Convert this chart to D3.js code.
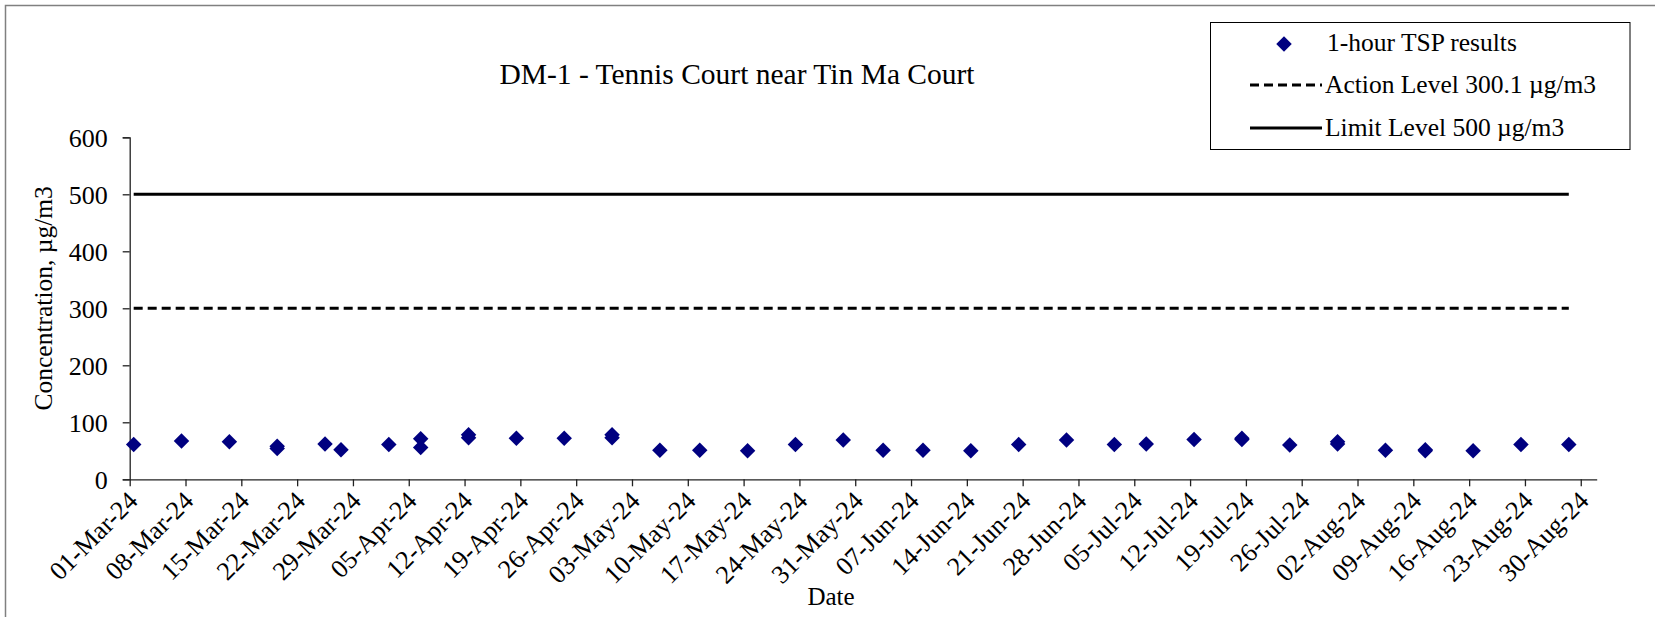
<!DOCTYPE html>
<html>
<head>
<meta charset="utf-8">
<script src="https://cdn.jsdelivr.net/npm/d3@7"></script>
<style>
  html, body { margin: 0; padding: 0; background: #fff; }
  svg { display: block; }
  text { font-family: "Liberation Serif", "Times New Roman", serif; fill: #000; }
</style>
</head>
<body>
<svg id="chart" width="1655" height="617"></svg>
<script>
// ---- Data ----
const sampleDates = [
  "2024-03-01","2024-03-07","2024-03-13","2024-03-19","2024-03-19","2024-03-25","2024-03-27",
  "2024-04-02","2024-04-06","2024-04-06","2024-04-12","2024-04-12","2024-04-18","2024-04-24",
  "2024-04-30","2024-04-30","2024-05-06","2024-05-11","2024-05-17","2024-05-23","2024-05-29",
  "2024-06-03","2024-06-08","2024-06-14","2024-06-20","2024-06-26","2024-07-02","2024-07-06",
  "2024-07-12","2024-07-18","2024-07-18","2024-07-24","2024-07-30","2024-07-30","2024-08-05",
  "2024-08-10","2024-08-10","2024-08-16","2024-08-22","2024-08-28"
];
const tspValues = [
  61, 67, 66, 58, 54, 62, 52,
  61, 71, 56, 78, 73, 72, 72,
  78, 73, 51, 51, 50, 61, 69,
  51, 51, 50, 61, 69, 61, 62,
  70, 72, 70, 60, 66, 62, 51,
  52, 50, 50, 61, 61
];
const actionLevel = 300.1;
const limitLevel = 500;
const levelStart = "2024-03-01";
const levelEnd = "2024-08-28";
const axisStart = "2024-03-01";
const axisEnd = "2024-09-01";
const lastTick = "2024-08-30";
const yTicks = [0, 100, 200, 300, 400, 500, 600];
const chartTitle = "DM-1 - Tennis Court near Tin Ma Court";
const yTitle = "Concentration, \u00b5g/m3";
const xTitle = "Date";
const legendLabels = ["1-hour TSP results", "Action Level 300.1 \u00b5g/m3", "Limit Level 500 \u00b5g/m3"];

// ---- Layout ----
const parse = d3.utcParse("%Y-%m-%d");
const mid = s => d3.utcHour.offset(parse(s), 12);
const svg = d3.select("#chart");
const plot = { left: 129.7, right: 1596.7, top: 137.3, bottom: 479.3 };

const x = d3.scaleUtc().domain([parse(axisStart), parse(axisEnd)]).range([plot.left, plot.right]);
const y = d3.scaleLinear().domain([0, 600]).range([plot.bottom, plot.top]);

// outer chart border
svg.append("rect").attr("x", 5.5).attr("y", 5.5).attr("width", 1700).attr("height", 700)
  .attr("fill", "none").attr("stroke", "#808080").attr("stroke-width", 1.5);

// title
svg.append("text").attr("x", 737).attr("y", 84).attr("text-anchor", "middle")
  .attr("font-size", 29.5).text(chartTitle);

// y axis
const yAxis = svg.append("g").attr("transform", `translate(${plot.left},0)`)
  .call(d3.axisLeft(y).tickValues(yTicks).tickSize(7).tickPadding(15).tickFormat(d3.format("d")));
yAxis.selectAll("text").attr("font-size", 26).attr("font-family", "Liberation Serif, serif").attr("dy", "0.35em");
yAxis.selectAll("line, path").attr("stroke", "#222").attr("stroke-width", 1.3);

// x axis
const weekTicks = d3.utcDay.range(parse(axisStart), d3.utcDay.offset(parse(lastTick), 1), 7);
const xAxis = svg.append("g").attr("transform", `translate(0,${plot.bottom})`)
  .call(d3.axisBottom(x).tickValues(weekTicks).tickSize(7).tickSizeOuter(0).tickFormat(d3.utcFormat("%d-%b-%y")));
xAxis.selectAll("line, path").attr("stroke", "#222").attr("stroke-width", 1.3);
xAxis.selectAll("text")
  .attr("font-size", 26).attr("font-family", "Liberation Serif, serif")
  .attr("text-anchor", "end")
  .attr("dy", 0).attr("y", 0)
  .attr("transform", "translate(9,23) rotate(-45)");

// axis titles
svg.append("text").attr("transform", `translate(52,${(plot.top + plot.bottom) / 2 - 10}) rotate(-90)`)
  .attr("text-anchor", "middle").attr("font-size", 25.5).text(yTitle);
svg.append("text").attr("x", 831).attr("y", 605).attr("text-anchor", "middle")
  .attr("font-size", 25).text(xTitle);

// level lines
svg.append("line")
  .attr("x1", x(mid(levelStart))).attr("x2", x(mid(levelEnd)))
  .attr("y1", y(limitLevel)).attr("y2", y(limitLevel))
  .attr("stroke", "#000").attr("stroke-width", 3);
svg.append("line")
  .attr("x1", x(mid(levelStart))).attr("x2", x(mid(levelEnd)))
  .attr("y1", y(actionLevel)).attr("y2", y(actionLevel))
  .attr("stroke", "#000").attr("stroke-width", 3).attr("stroke-dasharray", "9,5");

// points (Excel date axis centres points in the day)
const points = sampleDates.map((d, i) => ({ date: mid(d), value: tspValues[i] }));
const diamond = d3.symbol().type(d3.symbolSquare).size(120);
svg.append("g").selectAll("path").data(points).join("path")
  .attr("d", diamond)
  .attr("transform", d => `translate(${x(d.date)},${y(d.value)}) rotate(45)`)
  .attr("fill", "#000080");

// legend
const lg = svg.append("g");
lg.append("rect").attr("x", 1210.5).attr("y", 22.5).attr("width", 419.5).attr("height", 127)
  .attr("fill", "#fff").attr("stroke", "#000").attr("stroke-width", 1);
lg.append("path").attr("d", diamond).attr("transform", "translate(1284,44) rotate(45)").attr("fill", "#000080");
lg.append("line").attr("x1", 1250).attr("x2", 1322).attr("y1", 85).attr("y2", 85)
  .attr("stroke", "#000").attr("stroke-width", 3).attr("stroke-dasharray", "9,5");
lg.append("line").attr("x1", 1250).attr("x2", 1322).attr("y1", 128).attr("y2", 128)
  .attr("stroke", "#000").attr("stroke-width", 3);
const legendY = [51, 93, 136];
const legendX = [1327, 1325, 1325];
legendLabels.forEach((t, i) => {
  lg.append("text").attr("x", legendX[i]).attr("y", legendY[i]).attr("font-size", 25.5).text(t);
});
</script>
</body>
</html>
